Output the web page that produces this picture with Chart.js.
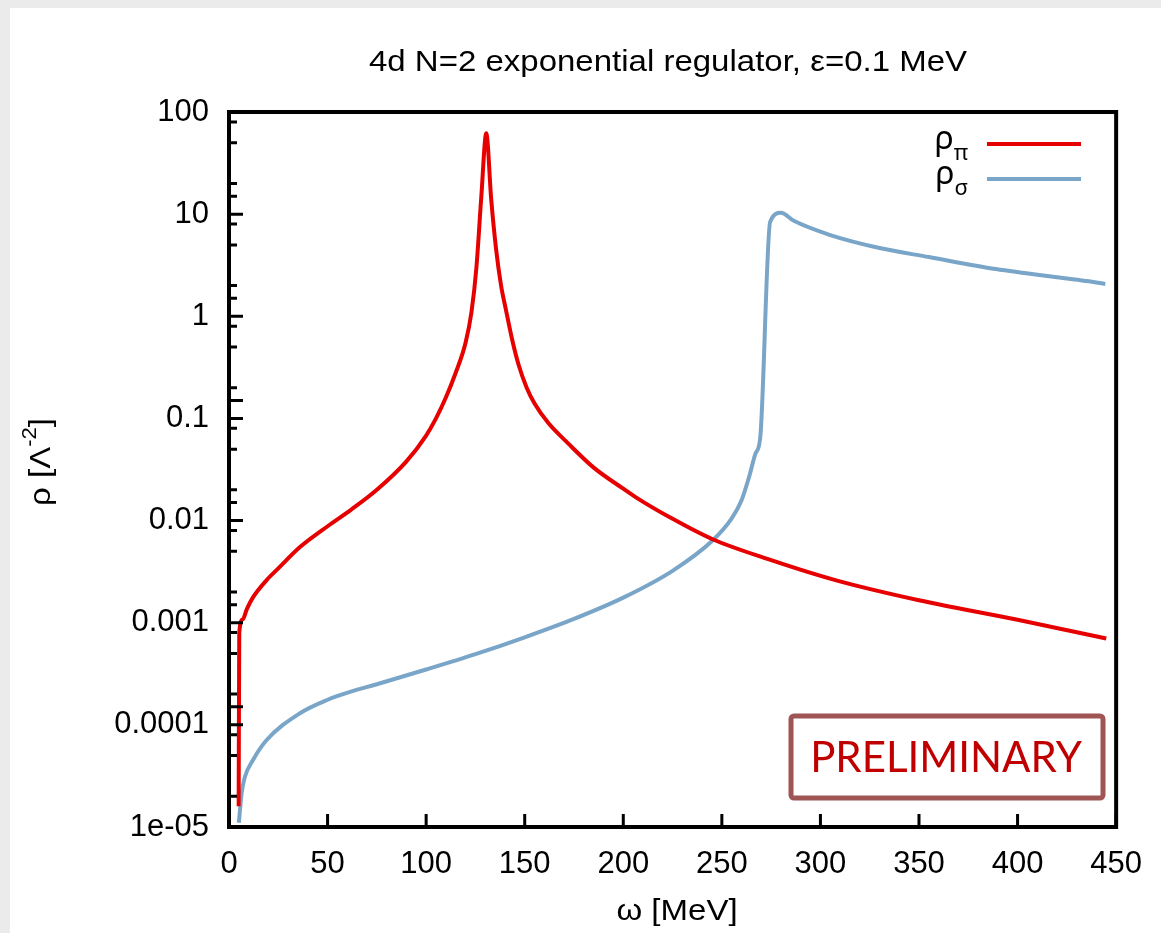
<!DOCTYPE html>
<html>
<head>
<meta charset="utf-8">
<script src="https://cdn.jsdelivr.net/npm/chart.js@4.4.1/dist/chart.umd.min.js"></script>
<style>
  html, body { margin: 0; padding: 0; background: #ebebeb; }
  #wrap { width: 1161px; height: 933px; }
</style>
</head>
<body>
<div id="wrap"><canvas id="my-chart" width="1161" height="933"></canvas></div>
<script>
// rho_pi
const piOmega = [4.9, 5.2, 7, 9, 12, 19, 25, 36, 50, 62, 75, 90, 100, 105, 110, 115, 120, 123, 125.5, 128, 130.5,
  133, 135.5, 138, 140.5, 144, 147, 151, 155, 162, 172, 185, 200, 207, 225, 245, 275, 308, 350, 400, 445];
const piRho = [1.6e-5, 8.0e-4, 0.00108, 0.00135, 0.00175, 0.0026, 0.0034, 0.0055, 0.0088, 0.0128, 0.02, 0.038,
  0.068, 0.1, 0.16, 0.28, 0.55, 1.1, 3.0, 15, 62,
  14, 4.5, 2.0, 1.15, 0.55, 0.33, 0.2, 0.14, 0.09, 0.057, 0.033, 0.0205, 0.0166, 0.0104, 0.0066, 0.0041,
  0.0026, 0.00166, 0.00107, 0.0007];

// rho_sigma
const sigmaOmega = [5, 6.4, 8, 12.1, 19, 36, 50, 61, 75, 100, 125, 150, 175, 200, 225, 245, 255, 260, 264, 267,
  269.5, 274.5, 280, 286.5, 305, 330, 355, 389, 423, 436, 444.5];
const sigmaRho = [1.1e-5, 2.14e-5, 3.07e-5, 4.5e-5, 7.06e-5, 1.3e-4, 1.76e-4, 2.09e-4, 2.5e-4, 3.48e-4, 4.92e-4,
  7.2e-4, 1.09e-3, 1.76e-3, 3.22e-3, 6.3e-3, 0.0105, 0.0158, 0.0275, 0.045,
  0.066, 8.4, 10.3, 8.6, 6.24, 4.66, 3.8, 2.9, 2.37, 2.2, 2.07];

const yTickLabels = ["1e-05", "0.0001", "0.001", "0.01", "0.1", "1", "10", "100"];
const minorMantissas = [2, 5, 8];
const legendSubs = ["π", "σ"];
const lineColors = ["#e60000", "#79a5c9"];

function toPoints(xs, ys) {
  return xs.map((x, i) => ({ x: x, y: ys[i] }));
}

const helv = "'Liberation Sans', Arial, sans-serif";

const decor = {
  id: "decor",
  beforeDraw(chart) {
    const ctx = chart.ctx;
    ctx.save();
    ctx.fillStyle = "#ebebeb";
    ctx.fillRect(0, 0, chart.width, chart.height);
    ctx.fillStyle = "#ffffff";
    ctx.fillRect(10, 8, chart.width - 10, chart.height - 8);
    ctx.restore();
  },
  afterDraw(chart) {
    const ctx = chart.ctx;
    const a = chart.chartArea;
    const xs = chart.scales.x, ys = chart.scales.y;
    ctx.save();

    // inward ticks
    ctx.strokeStyle = "#000";
    ctx.lineWidth = 3;
    ctx.beginPath();
    ys.ticks.forEach(t => {
      const e = Math.floor(Math.log10(t.value) + 1e-9);
      const m = Math.round(t.value / Math.pow(10, e));
      if (m !== 1 && !minorMantissas.includes(m)) return;
      const len = m === 1 ? 14 : 8;
      const y = ys.getPixelForValue(t.value);
      ctx.moveTo(a.left, y);
      ctx.lineTo(a.left + len, y);
    });
    xs.ticks.forEach(t => {
      const x = xs.getPixelForValue(t.value);
      ctx.moveTo(x, a.bottom);
      ctx.lineTo(x, a.bottom - 13);
    });
    ctx.stroke();

    // frame
    ctx.lineWidth = 4;
    ctx.strokeRect(a.left, a.top, a.right - a.left, a.bottom - a.top);

    // title and x title, slightly wide like the original
    ctx.fillStyle = "#000";
    ctx.textAlign = "center";
    ctx.textBaseline = "middle";
    ctx.save();
    ctx.translate(668, 63);
    ctx.scale(1.1, 1);
    ctx.font = "30px " + helv;
    ctx.fillText("4d N=2 exponential regulator, ε=0.1 MeV", 0, 0);
    ctx.restore();

    ctx.save();
    ctx.translate(677, 912);
    ctx.scale(1.1, 1);
    ctx.font = "30px " + helv;
    ctx.fillText("ω [MeV]", 0, 0);
    ctx.restore();

    // y title, rotated
    ctx.save();
    ctx.translate(42, 462);
    ctx.rotate(-Math.PI / 2);
    ctx.scale(1.1, 1);
    const big = "30px " + helv;
    const small = "20px " + helv;
    const parts = [["ρ [Λ", big, 0], ["-2", small, -12], ["]", big, 0]];
    let total = 0;
    parts.forEach(p => { ctx.font = p[1]; total += ctx.measureText(p[0]).width; });
    let px = -total / 2;
    ctx.textAlign = "left";
    parts.forEach(p => {
      ctx.font = p[1];
      ctx.fillText(p[0], px, p[2]);
      px += ctx.measureText(p[0]).width;
    });
    ctx.restore();

    // legend
    legendSubs.forEach((s, i) => {
      const y = 144 + 35 * i;
      ctx.strokeStyle = lineColors[i];
      ctx.lineWidth = 4;
      ctx.beginPath();
      ctx.moveTo(987, y);
      ctx.lineTo(1081, y);
      ctx.stroke();
      ctx.fillStyle = "#000";
      ctx.textAlign = "left";
      ctx.textBaseline = "alphabetic";
      ctx.font = "22px 'Noto Sans', sans-serif";
      const sw = ctx.measureText(s).width;
      ctx.font = "32px 'Noto Sans', sans-serif";
      const rw = ctx.measureText("ρ").width;
      const x0 = 968 - sw - rw;
      ctx.fillText("ρ", x0, y + 5);
      ctx.font = "22px 'Noto Sans', sans-serif";
      ctx.fillText(s, x0 + rw, y + 16);
    });

    // PRELIMINARY stamp
    ctx.strokeStyle = "#a05555";
    ctx.lineWidth = 5;
    ctx.beginPath();
    ctx.roundRect(791, 716, 312, 82, 3);
    ctx.stroke();
    ctx.fillStyle = "#c00000";
    ctx.font = "42px Lato, 'Open Sans', sans-serif";
    ctx.textAlign = "center";
    ctx.textBaseline = "middle";
    ctx.fillText("PRELIMINARY", 946, 758);

    ctx.restore();
  }
};

const ctx = document.getElementById("my-chart").getContext("2d");
const chart = new Chart(ctx, {
  type: "line",
  data: {
    datasets: [
      {
        label: "ρπ",
        data: toPoints(piOmega, piRho),
        borderColor: lineColors[0],
        borderWidth: 4,
        pointRadius: 0,
        cubicInterpolationMode: "monotone",
        fill: false,
      },
      {
        label: "ρσ",
        data: toPoints(sigmaOmega, sigmaRho),
        borderColor: lineColors[1],
        borderWidth: 4,
        pointRadius: 0,
        cubicInterpolationMode: "monotone",
        fill: false,
      },
    ],
  },
  options: {
    responsive: false,
    animation: false,
    devicePixelRatio: 1,
    layout: { padding: { left: 0, right: 40, top: 112, bottom: 0 } },
    plugins: { legend: { display: false }, title: { display: false }, tooltip: { enabled: false } },
    scales: {
      x: {
        type: "linear",
        min: 0,
        max: 450,
        ticks: {
          stepSize: 50,
          color: "#000",
          padding: 19,
          maxRotation: 0,
          font: { family: helv, size: 31 },
        },
        grid: { display: false, drawTicks: false },
        border: { display: false },
        afterFit(scale) { scale.height = 106; },
      },
      y: {
        type: "logarithmic",
        min: 1e-5,
        max: 100,
        ticks: {
          autoSkip: false,
          color: "#000",
          padding: 20,
          font: { family: helv, size: 31 },
          callback(v) {
            const l = Math.log10(v);
            if (Math.abs(l - Math.round(l)) > 1e-6) return "";
            return yTickLabels[Math.round(l) + 5];
          },
        },
        grid: { display: false, drawTicks: false },
        border: { display: false },
        afterFit(scale) { scale.width = 229; },
      },
    },
  },
  plugins: [decor],
});
</script>
</body>
</html>
